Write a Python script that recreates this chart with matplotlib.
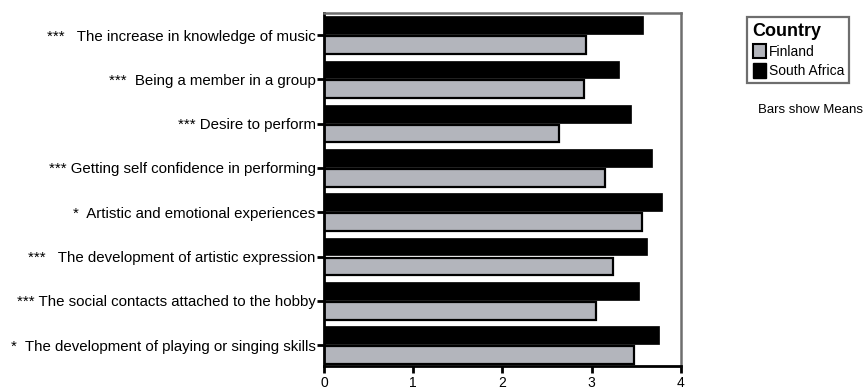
import numpy as np
import matplotlib.pyplot as plt
from matplotlib.patches import Patch

plt.rcParams['font.family'] = ['Liberation Sans', 'DejaVu Sans']

# motives, top to bottom, with significance stars
items = ["***   The increase in knowledge of music",
         "***  Being a member in a group",
         "*** Desire to perform",
         "*** Getting self confidence in performing",
         "*  Artistic and emotional experiences",
         "***   The development of artistic expression",
         "*** The social contacts attached to the hobby",
         "*  The development of playing or singing skills"]

finland = [2.94, 2.92, 2.63, 3.15, 3.56, 3.24, 3.05, 3.48]
south_africa = [3.58, 3.31, 3.44, 3.68, 3.79, 3.62, 3.53, 3.76]

x_ticks = [0, 1, 2, 3, 4]

grey = '#b3b5bc'

fig = plt.figure(figsize=(8.64, 3.91), dpi=100)
ax = fig.add_axes([0.375, 0.064, 0.413, 0.903])

pos = np.arange(len(items))
h = 0.4
ax.barh(pos - 0.225, south_africa, height=h, color='black', edgecolor='black', linewidth=0.5)
ax.barh(pos + 0.225, finland, height=h, color=grey, edgecolor='black', linewidth=1.6)

ax.set_xlim(0, 4)
ax.set_ylim(7.47, -0.5)
ax.set_xticks(x_ticks)
ax.set_yticks(pos)
ax.set_yticklabels(items, fontsize=10.8)
ax.tick_params(axis='x', labelsize=10, width=2, length=5, pad=2)
ax.tick_params(axis='y', width=2, length=5, pad=1)

for s in ['left', 'bottom']:
    ax.spines[s].set_linewidth(2)
    ax.spines[s].set_color('black')
for s in ['top', 'right']:
    ax.spines[s].set_linewidth(1.8)
    ax.spines[s].set_color('#6e6e6e')

handles = [Patch(facecolor=grey, edgecolor='black', linewidth=1.5, label='Finland'),
           Patch(facecolor='black', edgecolor='black', label='South Africa')]
leg = fig.legend(handles=handles, title='Country', loc='upper left',
                 bbox_to_anchor=(747 / 864, 1 - 17 / 391), fontsize=10,
                 title_fontproperties={'weight': 'bold', 'size': 13},
                 alignment='left', fancybox=False, framealpha=1,
                 handlelength=1.0, handleheight=1.25, handletextpad=0.15,
                 labelspacing=0.3, borderpad=0.4, borderaxespad=0)
leg.get_frame().set_edgecolor('#6e6e6e')
leg.get_frame().set_linewidth(1.6)

fig.text(758 / 864, 1 - 110 / 391, 'Bars show Means', fontsize=9.5, va='center', ha='left')

fig.savefig('out.png', dpi=100)
